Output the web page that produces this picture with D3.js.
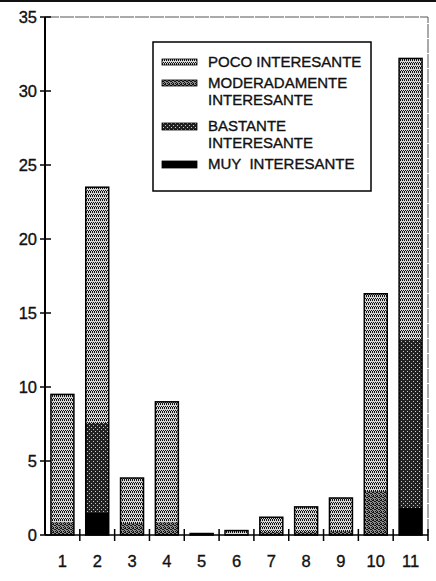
<!DOCTYPE html>
<html>
<head>
<meta charset="utf-8">
<script src="https://cdn.jsdelivr.net/npm/d3@7"></script>
<style>
  body { margin: 0; background: #fff; }
  svg { display: block; font-family: "Liberation Sans", Arial, sans-serif; }
  text { stroke: #111; stroke-width: 0.35px; }
</style>
</head>
<body>
<div id="chart"></div>
<script>
// values
const categories = ["1", "2", "3", "4", "5", "6", "7", "8", "9", "10", "11"];
const seriesNames = ["MUY INTERESANTE", "BASTANTE INTERESANTE", "MODERADAMENTE INTERESANTE", "POCO INTERESANTE"];
const muy      = [0,   1.5,  0,    0,   0,   0,   0,   0,   0,   0,    1.8];
const bastante = [0,   6.1,  0,    0,   0,   0,   0,   0,   0,   0,    11.4];
const moderado = [0.9, 0,    0.8,  0.9, 0,   0,   0.2, 0.2, 0.3, 3.0,  0];
const poco     = [8.6, 15.9, 3.05, 8.1, 0.1, 0.3, 1.0, 1.7, 2.2, 13.3, 19.0];
const yTicks = [0, 5, 10, 15, 20, 25, 30, 35];

const width = 436, height = 581;
const margin = { top: 17, right: 7, bottom: 46, left: 45 };

const svg = d3.select("#chart").append("svg")
    .attr("width", width)
    .attr("height", height);

// stipple patterns like the printed original
const defs = svg.append("defs");
function stipple(id, bg, fg, cells) {
    const p = defs.append("pattern")
        .attr("id", id)
        .attr("width", 4).attr("height", 4)
        .attr("patternUnits", "userSpaceOnUse");
    p.append("rect").attr("width", 4).attr("height", 4).attr("fill", bg);
    cells.forEach(([cx, cy]) => {
        p.append("rect").attr("x", cx).attr("y", cy)
            .attr("width", 1).attr("height", 1).attr("fill", fg);
    });
}
stipple("p-poco", "#d6d6d6", "#111", [[0, 0], [2, 0], [1, 2], [3, 2], [0, 3], [2, 3]]);
stipple("p-mod", "#8c8c8c", "#111", [[0, 0], [1, 0], [2, 1], [3, 1], [0, 2], [1, 3], [3, 3]]);
stipple("p-bas", "#222", "#ccc", [[1, 1], [3, 3]]);
stipple("p-muy", "#000", "#000", []);

const fills = {
    "MUY INTERESANTE": "url(#p-muy)",
    "BASTANTE INTERESANTE": "url(#p-bas)",
    "MODERADAMENTE INTERESANTE": "url(#p-mod)",
    "POCO INTERESANTE": "url(#p-poco)"
};

const rows = categories.map((c, i) => ({
    cat: c,
    "MUY INTERESANTE": muy[i],
    "BASTANTE INTERESANTE": bastante[i],
    "MODERADAMENTE INTERESANTE": moderado[i],
    "POCO INTERESANTE": poco[i]
}));

const stacked = d3.stack().keys(seriesNames)(rows);

const x = d3.scaleBand()
    .domain(categories)
    .range([margin.left, width - margin.right - 1])
    .paddingInner(0.34)
    .paddingOuter(0.17);

const y = d3.scaleLinear()
    .domain([0, 35])
    .range([height - margin.bottom, margin.top]);

// scan edge at the very top
svg.append("line")
    .attr("x1", 0).attr("x2", width)
    .attr("y1", 1).attr("y2", 1)
    .attr("stroke", "#111").attr("stroke-width", 2);

// faint frame top / right
const xr = x.range()[1];
svg.append("path")
    .attr("d", `M${margin.left},${y(35)}H${xr}V${y(0)}`)
    .attr("fill", "none")
    .attr("stroke", "#555")
    .attr("stroke-width", 1)
    .attr("stroke-dasharray", "14,1");

// bars
svg.append("g").selectAll("g")
    .data(stacked)
    .join("g")
    .attr("fill", d => fills[d.key])
    .selectAll("rect")
    .data(d => d.filter(s => s[1] - s[0] > 0))
    .join("rect")
    .attr("x", d => x(d.data.cat))
    .attr("width", x.bandwidth())
    .attr("y", d => y(d[1]))
    .attr("height", d => Math.max(1, y(d[0]) - y(d[1])))
    .attr("shape-rendering", "crispEdges");

// bar outlines
svg.append("g").selectAll("rect")
    .data(stacked[stacked.length - 1])
    .join("rect")
    .attr("x", d => x(d.data.cat))
    .attr("width", x.bandwidth())
    .attr("y", d => y(d[1]))
    .attr("height", d => y(0) - y(d[1]))
    .attr("fill", "none")
    .attr("stroke", "#000")
    .attr("stroke-width", 1.5);

// y axis
const yAxis = svg.append("g");
yAxis.append("line")
    .attr("x1", margin.left).attr("x2", margin.left)
    .attr("y1", y(35)).attr("y2", y(0))
    .attr("stroke", "#000").attr("stroke-width", 2);
yAxis.selectAll(".tick")
    .data(yTicks)
    .join("line")
    .attr("x1", margin.left - 5).attr("x2", margin.left + 6)
    .attr("y1", d => y(d)).attr("y2", d => y(d))
    .attr("stroke", "#000").attr("stroke-width", 1.5);
yAxis.selectAll("text")
    .data(yTicks)
    .join("text")
    .attr("x", margin.left - 8)
    .attr("y", d => y(d))
    .attr("dy", "0.36em")
    .attr("text-anchor", "end")
    .attr("font-size", 16.5)
    .attr("fill", "#111")
    .text(d => d);

// x axis
const xAxis = svg.append("g");
xAxis.append("line")
    .attr("x1", margin.left).attr("x2", xr)
    .attr("y1", y(0)).attr("y2", y(0))
    .attr("stroke", "#000").attr("stroke-width", 1.5);
const gap = x.step() * x.paddingOuter();
const bounds = categories.map(c => x(c) - gap).concat([xr]);
xAxis.selectAll(".tick")
    .data(bounds.slice(1))
    .join("line")
    .attr("x1", d => d).attr("x2", d => d)
    .attr("y1", y(0) - 6).attr("y2", y(0) + 6)
    .attr("stroke", "#000").attr("stroke-width", 1.5);
xAxis.selectAll("text")
    .data(categories)
    .join("text")
    .attr("x", d => x(d) + x.bandwidth() / 2)
    .attr("y", y(0) + 32)
    .attr("text-anchor", "middle")
    .attr("font-size", 16.5)
    .attr("fill", "#111")
    .text(d => d);

// legend
const legend = svg.append("g");
legend.append("rect")
    .attr("x", 153).attr("y", 42)
    .attr("width", 218).attr("height", 149)
    .attr("fill", "#fff")
    .attr("stroke", "#000")
    .attr("stroke-width", 1.5);

const legendItems = [
    { key: "POCO INTERESANTE", lines: ["POCO INTERESANTE"], top: 59, h: 6 },
    { key: "MODERADAMENTE INTERESANTE", lines: ["MODERADAMENTE", "INTERESANTE"], top: 80, h: 6 },
    { key: "BASTANTE INTERESANTE", lines: ["BASTANTE", "INTERESANTE"], top: 123, h: 7 },
    { key: "MUY INTERESANTE", lines: ["MUY  INTERESANTE"], top: 161, h: 7 }
];

const li = legend.selectAll(".item")
    .data(legendItems)
    .join("g");
li.append("rect")
    .attr("x", 162).attr("y", d => d.top)
    .attr("width", 35).attr("height", d => d.h)
    .attr("fill", d => fills[d.key])
    .attr("stroke", "#000")
    .attr("stroke-width", 0.8);
li.append("text")
    .attr("x", 208)
    .attr("y", d => d.top + 8)
    .attr("font-size", 15)
    .attr("fill", "#111")
    .style("white-space", "pre")
    .selectAll("tspan")
    .data(d => d.lines)
    .join("tspan")
    .attr("x", 208)
    .attr("dy", (d, i) => i === 0 ? 0 : 16.5)
    .text(d => d);
</script>
</body>
</html>
